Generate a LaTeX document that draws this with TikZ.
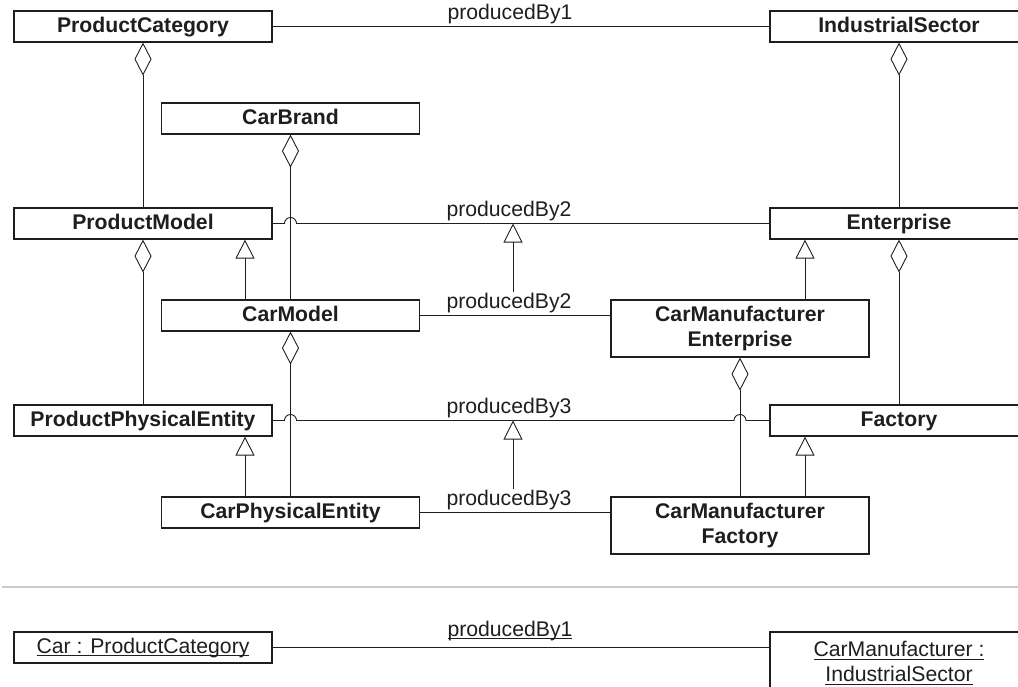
\documentclass[tikz,border=0pt]{standalone}
\usepackage{fontspec}
\setmainfont{Liberation Sans}
\usetikzlibrary{arrows.meta,calc}
\definecolor{ink}{HTML}{1E1E1E}
\definecolor{rulegray}{HTML}{CCCCCC}
% underline that sits just under the baseline, crossing the descenders
\newcommand{\undl}[1]{\leavevmode\setbox0=\hbox{#1}\rlap{\rule[-3.4pt]{\wd0}{1pt}}\box0}
\begin{document}
\begin{tikzpicture}[x=1pt,y=-1pt,
  txt/.style={font=\fontsize{21.2}{25}\selectfont, text=ink},
  cls/.style={txt, font=\fontsize{21.2}{25}\selectfont\bfseries, draw=ink, line width=1.2pt,
    fill=white, minimum width=258pt, minimum height=31pt, inner sep=0pt,
    text height=15.5pt, text depth=4.5pt},
  clstwo/.style={txt, font=\fontsize{21.2}{25}\selectfont\bfseries, draw=ink, line width=1.2pt,
    fill=white, minimum width=258pt, minimum height=57pt, inner sep=0pt, align=center},
  obj/.style={cls, font=\fontsize{21.2}{25}\selectfont},
  objtwo/.style={clstwo, font=\fontsize{21.2}{25}\selectfont, minimum height=62pt},
  conn/.style={draw=ink, line width=0.9pt},
  agg/.style={conn, {Diamond[open,length=33pt,width=17pt]}-},
  gen/.style={conn, -{Triangle[open,length=19pt,width=19pt]}},
  lbl/.style={txt, inner sep=0pt, anchor=base}
]
\clip (0,0) rectangle (1018,686);
\useasboundingbox (0,0) rectangle (1018,686);

% classes
\node[cls] (PC)  at (143,26.5)  {ProductCategory};
\node[cls] (IS)  at (899,26.5)  {IndustrialSector};
\node[cls] (CB)  at (290.5,118.5) {CarBrand};
\node[cls] (PM)  at (143,223.5) {ProductModel};
\node[cls] (EN)  at (899,223.5) {Enterprise};
\node[cls] (CM)  at (290.5,315.5) {CarModel};
\node[clstwo] (CME) at (740,328.5) {CarManufacturer\\Enterprise};
\node[cls] (PPE) at (143,420.5) {ProductPhysicalEntity};
\node[cls] (FA)  at (899,420.5) {Factory};
\node[cls] (CPE) at (290.5,512.5) {CarPhysicalEntity};
\node[clstwo] (CMF) at (740,525.5) {CarManufacturer\\Factory};

% objects
\node[obj] (CAR) at (143,647.5) {\undl{Car : ProductCategory}};
\node[objtwo] (CMI) at (899,663) {\undl{CarManufacturer :}\\\undl{IndustrialSector}};

% separator between class level and object level
\draw[rulegray, line width=2pt] (2,587) -- (1018,587);

% crossing points for line hops and generalization columns
\coordinate (h1) at (PM.east -| CB.south);
\coordinate (h2) at (PPE.east -| CM.south);
\coordinate (h3) at (PPE.east -| CME.south);
\coordinate (gl) at (245,0);
\coordinate (gr) at (805,0);
\coordinate (ax) at (513,0);

% associations
\draw[conn] (PC.east) -- (IS.west);
\node[lbl] (l1) at (510,19) {producedBy1};

\draw[conn] (PM.east) -- ([xshift=-6pt]h1) arc[start angle=180,end angle=0,radius=6pt] -- (EN.west);
\node[lbl] (l2a) at (509,216) {producedBy2};
\draw[conn] (CM.east) -- (CM.east -| CME.west);
\node[lbl] (l2b) at (509,308) {producedBy2};

\draw[conn] (PPE.east) -- ([xshift=-6pt]h2) arc[start angle=180,end angle=0,radius=6pt]
  -- ([xshift=-6pt]h3) arc[start angle=180,end angle=0,radius=6pt] -- (FA.west);
\node[lbl] (l3a) at (509,413) {producedBy3};
\draw[conn] (CPE.east) -- (CPE.east -| CMF.west);
\node[lbl] (l3b) at (509,505) {producedBy3};

\draw[conn] (CAR.east) -- (CAR.east -| CMI.west);
\node[lbl] (l4) at (510,636) {\undl{producedBy1}};

% association generalizations
\draw[gen] (l2b.north -| ax) -- (EN.west -| ax);
\draw[gen] (l3b.north -| ax) -- (FA.west -| ax);

% aggregations
\draw[agg] (PC.south) -- (PM.north);
\draw[agg] (PM.south) -- (PPE.north);
\draw[agg] (CB.south) -- (CM.north);
\draw[agg] (CM.south) -- (CPE.north);
\draw[agg] (IS.south) -- (EN.north);
\draw[agg] (EN.south) -- (FA.north);
\draw[agg] (CME.south) -- (CMF.north);

% generalizations
\draw[gen] (CM.north -| gl) -- (PM.south -| gl);
\draw[gen] (CPE.north -| gl) -- (PPE.south -| gl);
\draw[gen] (CME.north -| gr) -- (EN.south -| gr);
\draw[gen] (CMF.north -| gr) -- (FA.south -| gr);
\end{tikzpicture}
\end{document}
